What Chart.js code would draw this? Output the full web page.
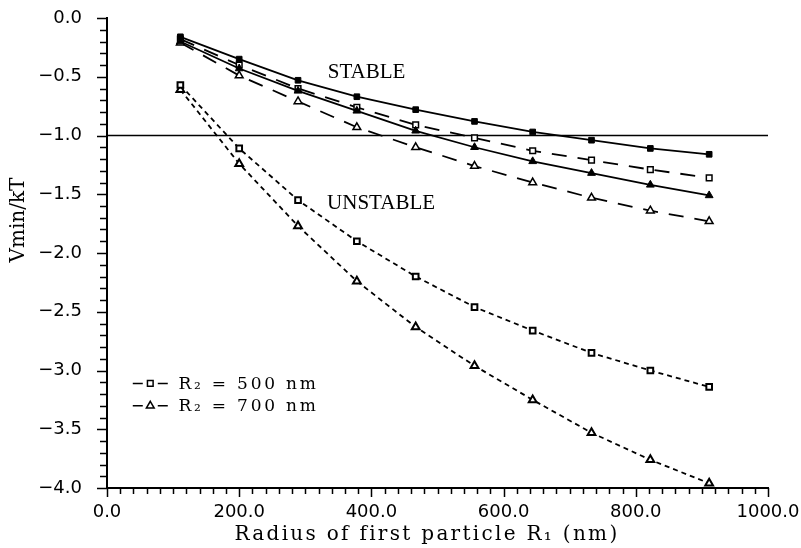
<!DOCTYPE html>
<html>
<head>
<meta charset="utf-8">
<script src="https://cdn.jsdelivr.net/npm/chart.js@4.4.0/dist/chart.umd.min.js"></script>
<style>
  html, body { margin: 0; padding: 0; background: #fff; }
  #wrap { width: 801px; height: 548px; }
</style>
</head>
<body>
<div id="wrap"><canvas id="vmin" width="801" height="548"></canvas></div>
<script>
// radius of the first particle (nm)
const radiusR1 = [111, 200, 289, 378, 467, 556, 644, 733, 822, 911];

// Vmin/kT for each curve
const stableSquares   = [-0.16, -0.35, -0.53, -0.67, -0.78, -0.88, -0.97, -1.04, -1.11, -1.16];
const stableTriangles = [-0.20, -0.43, -0.62, -0.79, -0.96, -1.10, -1.22, -1.32, -1.42, -1.51];
const r500Dashed      = [-0.18, -0.40, -0.60, -0.76, -0.91, -1.02, -1.13, -1.21, -1.29, -1.36];
const r700Dashed      = [-0.21, -0.49, -0.71, -0.93, -1.10, -1.26, -1.40, -1.53, -1.64, -1.73];
const unstable500     = [-0.57, -1.11, -1.55, -1.90, -2.20, -2.46, -2.66, -2.85, -3.00, -3.14];
const unstable700     = [-0.61, -1.24, -1.77, -2.24, -2.63, -2.96, -3.25, -3.53, -3.76, -3.96];

// stability boundary
const boundaryX = [0, 1000];
const boundaryY = [-1.0, -1.0];

const legendLabels = ['R\u2082 = 500 nm', 'R\u2082 = 700 nm'];

const pts = ys => radiusR1.map((r, i) => ({ x: r, y: ys[i] }));

const fmtTick = v => {
  if (Math.abs(v) < 1e-9) return '0.0';
  return (v < 0 ? '\u2212' : '') + Math.abs(v).toFixed(1);
};

// minor/major tick marks, annotations, hand-placed legend and axis titles
const decorations = {
  id: 'decorations',
  afterDraw(chart) {
    const { ctx, chartArea: a, scales: { x, y } } = chart;
    ctx.save();
    ctx.strokeStyle = '#000';
    ctx.lineWidth = 1.5;
    ctx.beginPath();
    for (let k = 0; k <= 40; k++) {
      const py = Math.round(y.getPixelForValue(-k / 10)) + 0.5;
      const len = k % 5 === 0 ? 10 : 7;
      ctx.moveTo(a.left - len, py);
      ctx.lineTo(a.left, py);
    }
    for (let k = 0; k <= 50; k++) {
      const px = Math.round(x.getPixelForValue(k * 20)) + 0.5;
      const len = k % 10 === 0 ? 9 : 6;
      ctx.moveTo(px, a.bottom);
      ctx.lineTo(px, a.bottom + len);
    }
    ctx.stroke();

    ctx.fillStyle = '#000';
    ctx.textBaseline = 'middle';
    ctx.textAlign = 'left';
    ctx.font = '21px "Liberation Serif"';
    ctx.fillText('STABLE', x.getPixelForValue(334), y.getPixelForValue(-0.46));
    ctx.fillText('UNSTABLE', x.getPixelForValue(333), y.getPixelForValue(-1.58));

    // legend rows
    const rows = [
      { ds: chart.data.datasets[2], v: -3.11 },
      { ds: chart.data.datasets[3], v: -3.30 }
    ];
    ctx.font = '17px "DejaVu Serif"';
    ctx.letterSpacing = '2.8px';
    rows.forEach((row, i) => {
      const py = y.getPixelForValue(row.v);
      const x0 = x.getPixelForValue(39);
      ctx.strokeStyle = '#000';
      ctx.lineWidth = 1.5;
      ctx.beginPath();
      ctx.moveTo(x0, py); ctx.lineTo(x0 + 10, py);
      ctx.moveTo(x0 + 25, py); ctx.lineTo(x0 + 35, py);
      ctx.stroke();
      ctx.fillStyle = row.ds.pointBackgroundColor;
      ctx.lineWidth = row.ds.pointBorderWidth;
      Chart.helpers.drawPoint(ctx, {
        pointStyle: row.ds.pointStyle,
        radius: row.ds.pointRadius,
        borderWidth: row.ds.pointBorderWidth,
        rotation: 0
      }, x0 + 17.5, py);
      ctx.fillStyle = '#000';
      ctx.fillText(legendLabels[i], x.getPixelForValue(108), py + 1);
    });

    // axis titles
    ctx.font = '20px "DejaVu Serif"';
    ctx.letterSpacing = '2.3px';
    ctx.textAlign = 'center';
    ctx.fillText('Radius of first particle R\u2081 (nm)', 427, 535);
    ctx.save();
    ctx.translate(19, 220);
    ctx.rotate(-Math.PI / 2);
    ctx.font = '20px "DejaVu Serif"';
    ctx.letterSpacing = '0px';
    ctx.fillText('Vmin/kT', 0, 0);
    ctx.restore();
    ctx.restore();
  }
};

const line = (label, ys, dash, style, filled, width) => ({
  label,
  data: pts(ys),
  showLine: true,
  borderColor: '#000',
  borderWidth: 1.8,
  borderDash: dash,
  pointStyle: style,
  pointRadius: style === 'rect' ? 4 : 4.5,
  pointBorderWidth: width,
  pointBackgroundColor: filled ? '#000' : '#fff',
  pointBorderColor: '#000',
  tension: 0
});

new Chart(document.getElementById('vmin'), {
  type: 'scatter',
  data: {
    datasets: [
      line('stable squares', stableSquares, [], 'rect', true, 1),
      line('stable triangles', stableTriangles, [], 'triangle', true, 1),
      line(legendLabels[0], r500Dashed, [15, 11], 'rect', false, 1.5),
      line(legendLabels[1], r700Dashed, [15, 11], 'triangle', false, 1.5),
      line('unstable squares', unstable500, [5, 4], 'rect', false, 2),
      line('unstable triangles', unstable700, [5, 4], 'triangle', false, 2),
      {
        label: 'Vmin = -1 kT',
        data: boundaryX.map((bx, i) => ({ x: bx, y: boundaryY[i] })),
        showLine: true,
        borderColor: '#000',
        borderWidth: 1.5,
        pointRadius: 0
      }
    ]
  },
  plugins: [decorations],
  options: {
    responsive: false,
    animation: false,
    layout: { padding: { left: 0, right: 33, top: 18, bottom: 0 } },
    plugins: {
      legend: { display: false },
      tooltip: { enabled: false }
    },
    scales: {
      x: {
        type: 'linear',
        min: 0,
        max: 1000,
        afterFit: s => { s.height = 60; s.paddingLeft = 0; s.paddingRight = 0; },
        grid: { display: false, drawTicks: false },
        border: { display: true, color: '#000', width: 2 },
        ticks: {
          stepSize: 200,
          padding: 14,
          maxRotation: 0,
          color: '#000',
          font: { family: '"DejaVu Sans"', size: 18 },
          callback: v => v.toFixed(1)
        }
      },
      y: {
        type: 'linear',
        min: -4,
        max: 0,
        afterFit: s => { s.width = 107; s.paddingTop = 0; s.paddingBottom = 0; },
        grid: { display: false, drawTicks: false },
        border: { display: true, color: '#000', width: 2 },
        ticks: {
          stepSize: 0.5,
          padding: 25,
          color: '#000',
          font: { family: '"DejaVu Sans"', size: 18 },
          callback: fmtTick
        }
      }
    }
  }
});
</script>
</body>
</html>
